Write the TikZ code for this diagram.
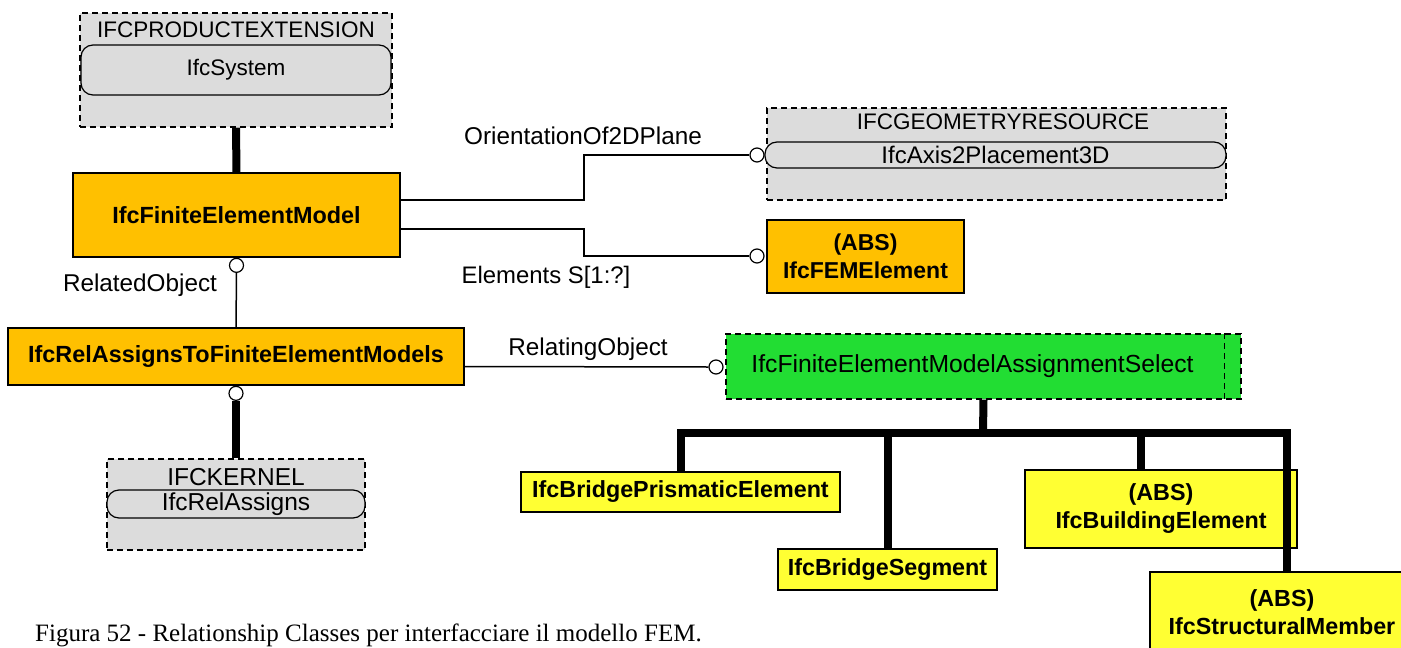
\documentclass[tikz,border=0pt]{standalone}
\usepackage{fontspec}
\setmainfont{Liberation Sans}
\newfontfamily\capfont{Liberation Serif}
\definecolor{pkggray}{HTML}{DCDCDC}
\definecolor{entorange}{HTML}{FFC000}
\definecolor{entyellow}{HTML}{FFFF33}
\definecolor{selgreen}{HTML}{22DD33}
\newcommand\fsz[1]{\fontsize{#1}{28}\selectfont}
\begin{document}
\begin{tikzpicture}[x=1pt,y=-1pt,
  dsh/.style={dash pattern=on 6pt off 4pt},
  pkgbox/.style={draw, dsh, line width=1.2pt, fill=pkggray, inner sep=0pt},
  pill/.style={draw, line width=1.2pt, fill=pkggray, rounded corners=12pt, inner sep=0pt, font=\fsz{22.5}},
  pkgtitle/.style={inner sep=0pt, font=\fsz{22.5}},
  entity/.style={draw, line width=1.5pt, fill=entorange, inner sep=0pt, align=center, font=\bfseries\fsz{23.4}},
  subent/.style={draw, line width=1.5pt, fill=entyellow, inner sep=0pt, align=center, font=\bfseries\fsz{23.3}},
  selbox/.style={draw, dsh, line width=1.2pt, fill=selgreen, inner sep=0pt, font=\fsz{24.7}},
  lbl/.style={inner sep=0pt, font=\fsz{24.3}},
  conn/.style={line width=1.5pt},
  heavy/.style={line width=8pt},
  circ/.style={circle, draw, line width=1.2pt, fill=white, inner sep=0pt, minimum size=14pt}
]
\useasboundingbox (0,0) rectangle (1401,648);

% package IFCPRODUCTEXTENSION
\node[pkgbox, minimum width=312pt, minimum height=114pt] (pe) at (236,70) {};
\node[pkgtitle] (pet) at (236,30) {IFCPRODUCTEXTENSION};
\node[pill, minimum width=310pt, minimum height=50pt] (sys) at (236,70) {IfcSystem};

% IfcFiniteElementModel
\node[entity, minimum width=327pt, minimum height=84pt] (fem) at (236.5,215) {IfcFiniteElementModel};
\draw[heavy] (pe.south) -- (fem.north);

% package IFCGEOMETRYRESOURCE
\node[pkgbox, minimum width=459pt, minimum height=92pt] (ge) at (996.5,154) {};
\node[pkgtitle] (get) at (1003,122) {IFCGEOMETRYRESOURCE};
\node[pill, minimum width=461pt, minimum height=26pt, font=\fsz{24}] (axis) at (995.5,155) {IfcAxis2Placement3D};

% IfcFEMElement
\node[entity, minimum width=197pt, minimum height=73pt, font=\bfseries\fsz{23}] (feme) at (865.5,256.5) {(ABS)\\IfcFEMElement};

% circles and connectors
\node[circ] (c1) at (757,155) {};
\node[circ] (c2) at (757,256) {};
\draw[conn] ([yshift=15pt]fem.east) -- ++(183,0) |- (c1.west);
\draw[conn] ([yshift=-14pt]fem.east) -- ++(183,0) |- (c2.west);
\node[lbl] (l1) at (583,136) {OrientationOf2DPlane};
\node[lbl, font=\fsz{23.9}] (l2) at (546,277) {Elements S[1:?]};

% IfcRelAssignsToFiniteElementModels
\node[entity, minimum width=456pt, minimum height=57pt] (rel) at (236,356.5) {IfcRelAssignsToFiniteElementModels};
\node[circ, anchor=north] (c3) at (fem.south) {};
\draw[conn] (c3.south) -- (rel.north);
\node[lbl] (l3) at (140,285) {RelatedObject};

% select
\node[selbox, minimum width=515pt, minimum height=65pt] (sel) at (983.5,366.5) {\hspace*{-22pt}IfcFiniteElementModelAssignmentSelect};
\draw[dsh, line width=1.2pt] ([xshift=-17pt]sel.north east) -- ([xshift=-17pt]sel.south east);
\node[circ] (c5) at (716,367) {};
\draw[conn] ([yshift=-10pt]rel.east) -- (c5.west);
\node[lbl] (l4) at (588,349) {RelatingObject};

% package IFCKERNEL
\node[pkgbox, minimum width=258pt, minimum height=91pt] (ke) at (236,504.5) {};
\node[pkgtitle, font=\fsz{24.5}] (ket) at (236,477) {IFCKERNEL};
\node[pill, minimum width=258pt, minimum height=28pt, font=\fsz{24.5}] (ra) at (236,504) {IfcRelAssigns};
\node[circ, anchor=north] (c4) at (rel.south) {};
\draw[heavy] (c4.south) -- (ke.north);

% subtypes
\node[subent, minimum width=319pt, minimum height=40pt] (b1) at (680.5,492) {IfcBridgePrismaticElement};
\node[subent, minimum width=219pt, minimum height=41pt] (b2) at (887.5,569.5) {IfcBridgeSegment};
\node[subent, minimum width=272pt, minimum height=78pt] (b3) at (1161,509) {(ABS)\\IfcBuildingElement};
\node[subent, minimum width=264pt, minimum height=80pt] (b4) at (1282,612) {(ABS)\\IfcStructuralMember};

\coordinate (bus) at (983,433);
\draw[heavy] (sel.south) -- (bus);
\draw[heavy, line join=miter] (b1.north) -- (b1.north |- bus) -- ([xshift=5pt]b4.north |- bus) -- ([xshift=5pt]b4.north);
\draw[heavy] (b2.north) -- (b2.north |- bus);
\draw[heavy] ([xshift=-20pt]b3.north) -- ([xshift=-20pt]b3.north |- bus);

% caption
\node[anchor=west, inner sep=0pt, font=\capfont\fontsize{25}{28}\selectfont] (cap) at (35,635) {Figura 52 - Relationship Classes per interfacciare il modello FEM.};
\end{tikzpicture}
\end{document}
